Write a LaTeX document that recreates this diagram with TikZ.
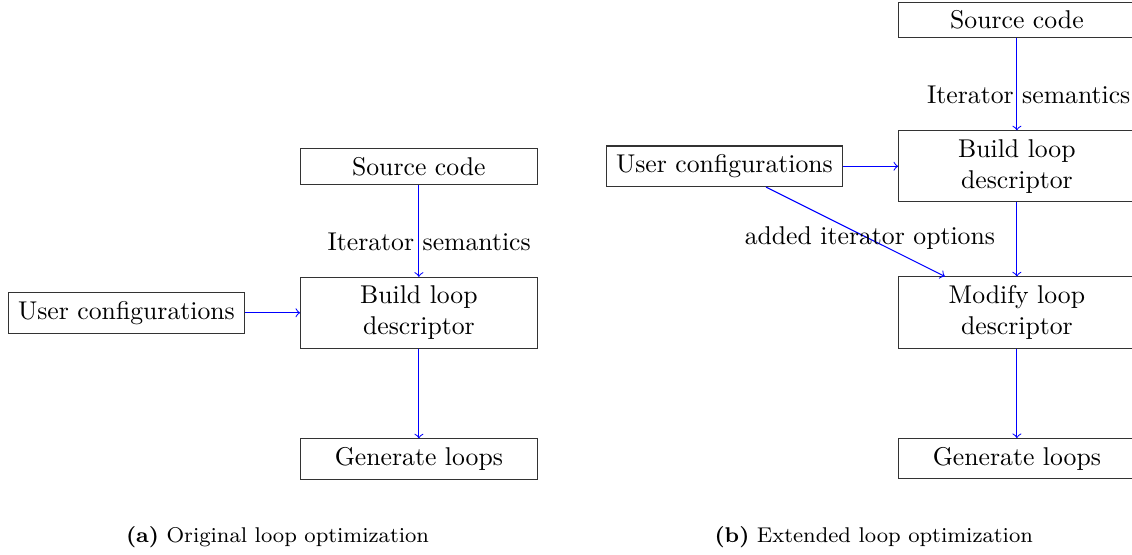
\documentclass[tikz,border=0pt]{standalone}
\usetikzlibrary{calc}

\tikzset{
  lepes/.style={draw=black!80, rectangle, text width=3cm, align=center},
  folyam/.style={->, draw=blue},
  felirat/.style={inner sep=0pt},
  alcim/.style={font=\fontsize{8.3}{10}\selectfont, anchor=base}
}

\begin{document}
\begin{tikzpicture}
\useasboundingbox (0,0) rectangle (440.5pt,-215.6pt);
\pgfmathsetmacro{\lepeskoz}{2}
\pgfmathsetmacro{\oldalkoz}{4}

% (a) eredeti
\node[lepes] (forras) at (163pt,-64.8pt) {Source code};
\node[lepes] (epit) at ([yshift=-\lepeskoz cm]forras) {Build loop descriptor};
\node[lepes] (felh) at ([xshift=-\oldalkoz cm]epit) {User configurations};
\node[lepes] (general) at ([yshift=-\lepeskoz cm]epit) {Generate loops};

\draw[folyam] (forras) -- (epit);
\draw[folyam] (felh) -- (epit);
\draw[folyam] (epit) -- (general);
\node[felirat] (iter) at ([shift={(4pt,-29.5pt)}]forras) {Iterator semantics};

% (b) kiterjesztett
\begin{scope}[shift={(232.7pt,57pt)}]
\node[lepes] (forras') at (163pt,-64.8pt) {Source code};
\node[lepes] (epit') at ([yshift=-\lepeskoz cm]forras') {Build loop descriptor};
\node[lepes] (felh') at ([xshift=-\oldalkoz cm]epit') {User configurations};
\node[lepes] (modosit') at ([yshift=-\lepeskoz cm]epit') {Modify loop descriptor};
\node[lepes] (general') at ([yshift=-\lepeskoz cm]modosit') {Generate loops};
\end{scope}

\draw[folyam] (forras') -- (epit');
\draw[folyam] (felh') -- (epit');
\draw[folyam] (epit') -- (modosit');
\draw[folyam] (modosit') -- (general');
\draw[folyam] (felh') -- (modosit');
\node[felirat] (iter') at ([shift={(4.6pt,-29.2pt)}]forras') {Iterator semantics};
\node[felirat] (opciok') at (338.5pt,-92.6pt) {added iterator options};

\node[alcim] (alcima) at (108pt,-211.3pt) {\textbf{(a)} Original loop optimization};
\node[alcim] (alcimb) at (340pt,-211.3pt) {\textbf{(b)} Extended loop optimization};
%\node at (0,0){};
\end{tikzpicture}
\end{document}
